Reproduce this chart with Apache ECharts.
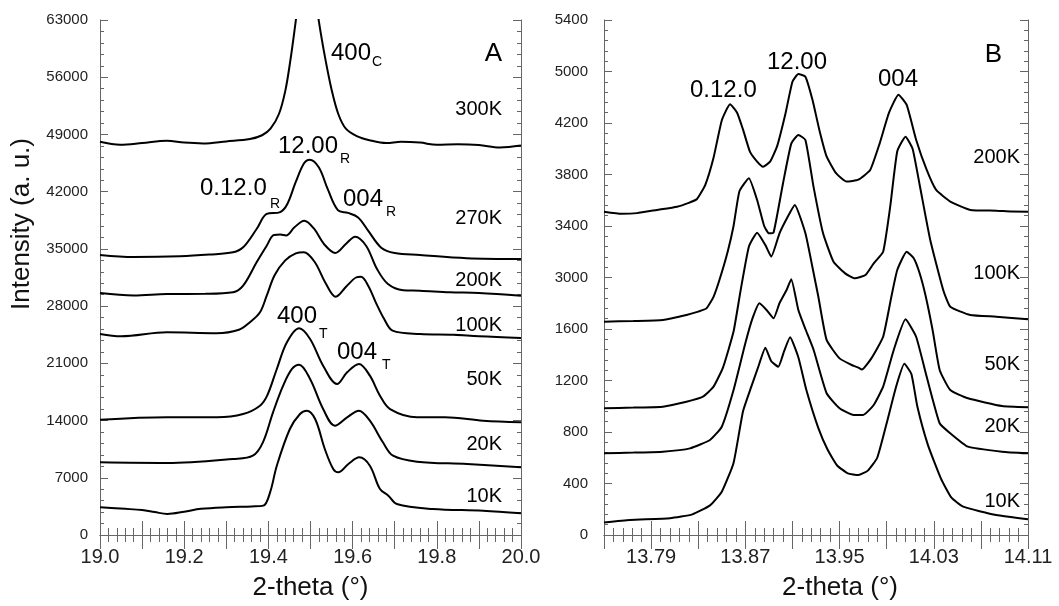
<!DOCTYPE html>
<html>
<head>
<meta charset="utf-8">
<script src="https://cdn.jsdelivr.net/npm/echarts@6/dist/echarts.min.js"></script>
<style>
  html, body { margin: 0; padding: 0; background: #fff; }
  #chart { width: 1059px; height: 606px; }
</style>
</head>
<body>
<div id="chart"></div>
<script>
// ---- panel A : 2-theta 19.0 - 20.0, intensity (a. u.) ----
const a300K = [[19.000, 48110], [19.048, 47750], [19.100, 47950], [19.159, 48230], [19.200, 48000], [19.245, 47900],
  [19.300, 48150], [19.356, 48440], [19.385, 48900], [19.405, 49700], [19.425, 51500], [19.440, 54300], [19.452, 58000],
  [19.464, 62500], [19.478, 68000], [19.492, 71000], [19.506, 68000], [19.520, 62800], [19.535, 58300], [19.550, 54500],
  [19.566, 51500], [19.584, 49700], [19.610, 48800], [19.640, 48300], [19.680, 47950], [19.715, 48100], [19.760, 48000],
  [19.800, 47740], [19.850, 47800], [19.900, 47700], [19.950, 47400], [20.000, 47640]];
const a270K = [[19.000, 34250], [19.080, 34000], [19.190, 34090], [19.260, 34300], [19.316, 34580], [19.340, 35190],
  [19.372, 37430], [19.396, 39270], [19.428, 39500], [19.445, 40500], [19.465, 43200], [19.485, 45500], [19.498, 45910],
  [19.520, 44950], [19.541, 42300], [19.565, 39750], [19.589, 39400], [19.613, 38850], [19.636, 37300], [19.668, 35150],
  [19.700, 34500], [19.760, 34250], [19.871, 33850], [20.000, 33760]];
const a200K = [[19.000, 29600], [19.080, 29300], [19.159, 29480], [19.250, 29500], [19.316, 29690], [19.340, 30500],
  [19.372, 33360], [19.396, 35390], [19.413, 36700], [19.428, 36750], [19.442, 36650], [19.462, 37640], [19.485, 38450],
  [19.508, 37500], [19.532, 35600], [19.559, 34500], [19.584, 35600], [19.606, 36500], [19.632, 35390], [19.658, 32540],
  [19.684, 30700], [19.720, 29950], [19.760, 29890], [19.831, 29690], [19.900, 29600], [20.000, 29270]];
const a100K = [[19.000, 24590], [19.050, 24300], [19.159, 24790], [19.277, 24670], [19.330, 25100], [19.356, 26020],
  [19.380, 27240], [19.396, 29270], [19.415, 31800], [19.440, 33600], [19.465, 34450], [19.484, 34600], [19.510, 33400],
  [19.535, 30900], [19.560, 29150], [19.585, 30400], [19.608, 31500], [19.620, 31600], [19.638, 30400], [19.655, 28460],
  [19.675, 26420], [19.695, 25000], [19.760, 24590], [19.840, 24500], [19.900, 24300], [20.000, 24100]];
const a50K = [[19.000, 14100], [19.159, 14400], [19.278, 14400], [19.340, 14800], [19.380, 15820], [19.397, 17040],
  [19.420, 20310], [19.444, 23570], [19.473, 25280], [19.499, 23980], [19.530, 20710], [19.563, 18470], [19.587, 19900],
  [19.615, 20920], [19.641, 19490], [19.665, 17040], [19.689, 15410], [19.753, 14400], [19.819, 14400], [19.910, 13980],
  [20.000, 13790]];
const a20K = [[19.000, 8890], [19.159, 8810], [19.316, 9300], [19.363, 9700], [19.387, 11340], [19.411, 15010],
  [19.435, 18270], [19.456, 20310], [19.473, 20830], [19.499, 19080], [19.530, 15410], [19.558, 13370], [19.587, 14400],
  [19.615, 15210], [19.641, 13980], [19.672, 11340], [19.696, 9700], [19.753, 8970], [19.872, 8690], [20.000, 8280]];
const a10K = [[19.000, 3390], [19.060, 3200], [19.100, 3050], [19.130, 2800], [19.160, 2570], [19.200, 2850],
  [19.240, 3200], [19.300, 3400], [19.360, 3500], [19.388, 3590], [19.404, 5220], [19.420, 8480], [19.451, 12970],
  [19.475, 14800], [19.491, 15210], [19.511, 14190], [19.534, 10520], [19.554, 8070], [19.566, 7670], [19.590, 8690],
  [19.616, 9500], [19.641, 8480], [19.665, 5630], [19.685, 4810], [19.705, 3790], [19.790, 3180], [19.910, 2970],
  [20.000, 2650]];

// ---- panel B : 2-theta 13.75 - 14.11 (y in plot units, labels below) ----
const b200K = [[13.750, 2511], [13.765, 2495], [13.778, 2500], [13.795, 2525], [13.812, 2550], [13.822, 2580],
  [13.829, 2610], [13.836, 2720], [13.843, 2930], [13.850, 3220], [13.857, 3345], [13.863, 3280], [13.868, 3150],
  [13.874, 2975], [13.880, 2900], [13.885, 2860], [13.891, 2900], [13.897, 3020], [13.904, 3270], [13.910, 3520],
  [13.915, 3580], [13.921, 3560], [13.927, 3380], [13.933, 3140], [13.939, 2940], [13.947, 2810], [13.956, 2745],
  [13.966, 2760], [13.976, 2835], [13.984, 3040], [13.992, 3280], [14.000, 3420], [14.007, 3340], [14.015, 3070],
  [14.024, 2835], [14.032, 2680], [14.044, 2590], [14.061, 2525], [14.083, 2519], [14.096, 2512], [14.110, 2511]];
const b100K = [[13.750, 1657], [13.775, 1662], [13.800, 1670], [13.820, 1709], [13.830, 1735], [13.837, 1760],
  [13.843, 1850], [13.848, 1980], [13.855, 2200], [13.860, 2400], [13.865, 2670], [13.873, 2771], [13.880, 2602],
  [13.886, 2400], [13.890, 2343], [13.894, 2350], [13.902, 2732], [13.909, 3040], [13.915, 3107], [13.921, 3068],
  [13.928, 2700], [13.936, 2343], [13.945, 2120], [13.955, 2030], [13.963, 1994], [13.972, 2019], [13.979, 2110],
  [13.987, 2200], [13.993, 2550], [13.999, 2980], [14.006, 3094], [14.012, 3000], [14.018, 2720], [14.027, 2291],
  [14.038, 1903], [14.044, 1773], [14.061, 1709], [14.083, 1696], [14.110, 1675]];
const b50K = [[13.750, 984], [13.775, 990], [13.800, 997], [13.820, 1035], [13.834, 1074], [13.843, 1152],
  [13.851, 1300], [13.860, 1580], [13.866, 1900], [13.873, 2239], [13.880, 2348], [13.887, 2252], [13.892, 2162],
  [13.899, 2343], [13.906, 2472], [13.912, 2563], [13.921, 2343], [13.928, 2033], [13.932, 1850], [13.939, 1515],
  [13.950, 1372], [13.962, 1313], [13.966, 1300], [13.969, 1285], [13.977, 1372], [13.987, 1540], [13.994, 1851],
  [13.999, 2058], [14.007, 2200], [14.013, 2150], [14.018, 2033], [14.023, 1860], [14.029, 1592], [14.035, 1282],
  [14.044, 1126], [14.059, 1062], [14.088, 1002], [14.110, 992]];
const b20K = [[13.750, 634], [13.775, 640], [13.800, 647], [13.823, 673], [13.840, 738], [13.850, 841],
  [13.860, 1126], [13.870, 1489], [13.876, 1680], [13.882, 1800], [13.888, 1748], [13.894, 1683], [13.899, 1800],
  [13.905, 1903], [13.909, 1986], [13.915, 1748], [13.921, 1600], [13.928, 1437], [13.939, 1101], [13.950, 984],
  [13.962, 932], [13.970, 932], [13.979, 1010], [13.987, 1152], [13.996, 1437], [14.006, 1675], [14.015, 1540],
  [14.024, 1229], [14.035, 868], [14.044, 790], [14.059, 686], [14.088, 647], [14.110, 634]];
const b10K = [[13.750, 97], [13.772, 117], [13.806, 130], [13.825, 160], [13.840, 230], [13.850, 336],
  [13.860, 560], [13.868, 960], [13.875, 1150], [13.881, 1307], [13.887, 1455], [13.892, 1350], [13.898, 1307],
  [13.903, 1430], [13.908, 1535], [13.915, 1380], [13.922, 1120], [13.932, 830], [13.940, 660], [13.948, 540],
  [13.957, 479], [13.966, 466], [13.974, 500], [13.982, 600], [13.990, 868], [13.998, 1152], [14.005, 1330],
  [14.011, 1250], [14.016, 1000], [14.025, 700], [14.036, 440], [14.045, 290], [14.055, 220], [14.083, 155],
  [14.110, 122]];

// tick labels printed on the B intensity axis (evenly spaced in the figure)
const yTickLabelsB = ['0', '400', '800', '1200', '1600', '3000', '3400', '3800', '4200', '5000', '5400'];

const FONT = '"Liberation Sans", Arial, Helvetica, sans-serif';
const AXIS = '#666';

function xAxisCfg(grid, min, max, step, top, fmt, name, pad) {
  return {
    type: 'value', gridIndex: grid, min: min, max: max, interval: step,
    position: top ? 'top' : 'bottom',
    axisLine: { show: true, lineStyle: { color: AXIS, width: 1 } },
    axisTick: { show: true, inside: true, length: 14, lineStyle: { color: AXIS } },
    minorTick: { show: true, splitNumber: 5, length: 7, lineStyle: { color: AXIS } },
    splitLine: { show: false },
    axisLabel: { show: !top, formatter: fmt, fontSize: 20, fontFamily: FONT, color: '#222', margin: 12 },
    name: top ? '' : name, nameLocation: 'middle', nameGap: 40,
    nameTextStyle: { fontSize: 26, fontFamily: FONT, color: '#111', padding: [0, 0, 0, pad || 0] }
  };
}
function yAxisCfg(grid, max, step, right, fmt, margin) {
  return {
    type: 'value', gridIndex: grid, min: 0, max: max, interval: step,
    position: right ? 'right' : 'left',
    axisLine: { show: true, lineStyle: { color: AXIS, width: 1 } },
    axisTick: { show: true, inside: true, length: 8, lineStyle: { color: AXIS } },
    minorTick: { show: true, splitNumber: 5, length: 4, lineStyle: { color: AXIS } },
    splitLine: { show: false },
    axisLabel: { show: !right, formatter: fmt, fontSize: 15, fontFamily: FONT, color: '#222', margin: margin }
  };
}
function line(data, xi, yi, smooth) {
  return {
    type: 'line', data: data, xAxisIndex: xi, yAxisIndex: yi,
    symbol: 'none', smooth: smooth, clip: true, silent: true,
    lineStyle: { color: '#000', width: 2 }
  };
}
function txt(x, y, text, size, align) {
  return {
    type: 'text', x: x, y: y, silent: true,
    style: {
      text: text, fontSize: size, fontFamily: FONT, fill: '#000',
      align: align || 'left', verticalAlign: 'middle',
      textAlign: align || 'left', textVerticalAlign: 'middle'
    }
  };
}

const fmtA = v => (Math.round((v - 19) * 10) % 2 === 0 ? v.toFixed(1) : '');
const fmtYA = v => String(Math.round(v));
const fmtB = v => (Math.round((v - 13.75) / 0.04) % 2 === 1 ? v.toFixed(2) : '');
const fmtYB = v => yTickLabelsB[Math.round(v / 400)];

const option = {
  animation: false,
  backgroundColor: '#fff',
  grid: [
    { left: 100, top: 20, width: 421, height: 516 },
    { left: 604, top: 20, width: 424, height: 515 }
  ],
  xAxis: [
    xAxisCfg(0, 19, 20, 0.1, false, fmtA, '2-theta (°)'),
    xAxisCfg(0, 19, 20, 0.1, true),
    xAxisCfg(1, 13.75, 14.11, 0.04, false, fmtB, '2-theta (°)', 48),
    xAxisCfg(1, 13.75, 14.11, 0.04, true)
  ],
  yAxis: [
    yAxisCfg(0, 63000, 7000, false, fmtYA, 12),
    yAxisCfg(0, 63000, 7000, true),
    yAxisCfg(1, 4000, 400, false, fmtYB, 16),
    yAxisCfg(1, 4000, 400, true)
  ],
  series: [
    line(a300K, 0, 0, 0.35), line(a270K, 0, 0, 0.35), line(a200K, 0, 0, 0.35), line(a100K, 0, 0, 0.35),
    line(a50K, 0, 0, 0.35), line(a20K, 0, 0, 0.35), line(a10K, 0, 0, 0.35),
    line(b200K, 2, 2, 0.15), line(b100K, 2, 2, 0.15), line(b50K, 2, 2, 0.15), line(b20K, 2, 2, 0.15),
    line(b10K, 2, 2, 0.15)
  ],
  graphic: [
    {
      type: 'text', x: 22, y: 224, rotation: Math.PI / 2, silent: true,
      style: { text: 'Intensity (a. u.)', fontSize: 26, fontFamily: FONT, fill: '#111',
        align: 'center', verticalAlign: 'middle', textAlign: 'center', textVerticalAlign: 'middle' }
    },
    // panel A
    txt(502, 54, 'A', 26, 'right'),
    txt(331, 53, '400', 24), txt(372, 62, 'C', 14),
    txt(278, 146, '12.00', 24), txt(340, 159, 'R', 14),
    txt(200, 188, '0.12.0', 24), txt(270, 204, 'R', 14),
    txt(343, 199, '004', 24), txt(386, 212, 'R', 14),
    txt(277, 316, '400', 24), txt(319, 334, 'T', 14),
    txt(337, 352, '004', 24), txt(382, 365, 'T', 14),
    txt(502, 109, '300K', 20, 'right'), txt(502, 218, '270K', 20, 'right'), txt(502, 280, '200K', 20, 'right'),
    txt(502, 325, '100K', 20, 'right'), txt(502, 379, '50K', 20, 'right'), txt(502, 444, '20K', 20, 'right'),
    txt(502, 496, '10K', 20, 'right'),
    // panel B
    txt(1002, 55, 'B', 26, 'right'),
    txt(690, 90, '0.12.0', 24), txt(767, 62, '12.00', 24), txt(878, 79, '004', 24),
    txt(1020, 157, '200K', 20, 'right'), txt(1020, 273, '100K', 20, 'right'), txt(1020, 364, '50K', 20, 'right'),
    txt(1020, 426, '20K', 20, 'right'), txt(1020, 501, '10K', 20, 'right')
  ]
};

const myChart = echarts.init(document.getElementById('chart'));
myChart.setOption(option);
</script>
</body>
</html>
